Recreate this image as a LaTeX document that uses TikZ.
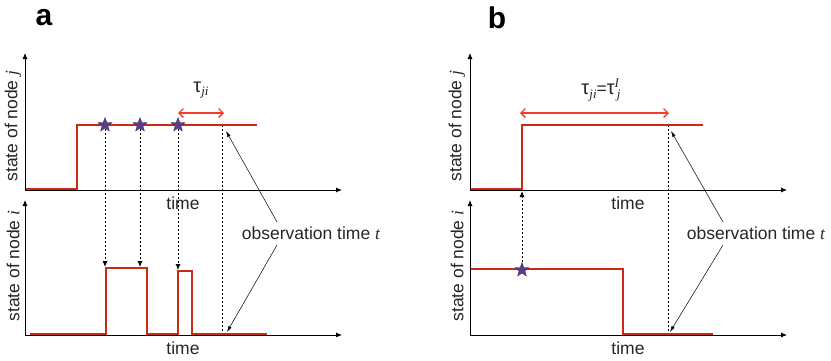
\documentclass[tikz,border=0pt]{standalone}
\usepackage{fontspec}
\setmainfont{Liberation Sans}
\newfontfamily\tim{Liberation Serif}
\usetikzlibrary{arrows.meta,shapes.geometric}
\definecolor{sig}{RGB}{200,45,20}
\definecolor{arr}{RGB}{245,60,40}
\definecolor{starc}{RGB}{95,60,135}
\newcommand\bigtau{{\fontsize{20}{20}\selectfont τ}}
\newcommand\lsub[1]{\raisebox{-3.5pt}{\fontsize{13}{13}\selectfont\tim\itshape #1}}
\newcommand\lsup[1]{\makebox[0pt][l]{\raisebox{7pt}{\fontsize{13}{13}\selectfont\tim\itshape #1}}}
\begin{document}
\begin{tikzpicture}[x=1pt,y=-1pt,
 axis/.style={line width=0.8pt,-{Latex[length=6pt,width=5pt]}},
 signal/.style={sig,line width=1.3pt,line join=miter},
 obs/.style={dash pattern=on 2.2pt off 1.8pt,line width=0.9pt},
 trig/.style={obs,-{Latex[length=6pt,width=5pt]}},
 span/.style={arr,line width=1.4pt,{Straight Barb[length=4.5pt,width=9pt]}-{Straight Barb[length=4.5pt,width=9pt]}},
 ptr/.style={line width=0.5pt,-{Latex[length=6pt,width=3.5pt]}},
 lbl/.style={font=\fontsize{17.5}{20}\selectfont,inner sep=0pt,text=black!85},
 starn/.style={star,star points=5,star point ratio=2.4,fill=starc,draw=starc!70!black,line width=0.3pt,minimum size=15pt,inner sep=0pt},
 panel/.style={font=\fontsize{30}{34}\bfseries\selectfont,inner sep=0pt}]
\useasboundingbox (0,0) rectangle (831,360);

% ---------------- panel a ----------------
\node[panel] (la) at (44,18) {a};
\coordinate (aO1) at (25,190); \coordinate (aY1) at (25,53); \coordinate (aX1) at (342,190);
\coordinate (aO2) at (25,335); \coordinate (aY2) at (25,200); \coordinate (aX2) at (342,335);
\draw[axis] (aO1) -- (aY1);
\draw[axis] (aO1) -- (aX1);
\draw[axis] (aO2) -- (aY2);
\draw[axis] (aO2) -- (aX2);

\coordinate (as1) at (105,125); \coordinate (as2) at (140,125); \coordinate (as3) at (178,125);
\coordinate (ap1) at (105,267); \coordinate (ap2) at (140,267); \coordinate (ap3) at (178,270);
\coordinate (aoT) at (222,125); \coordinate (aoB) at (222,334);
\draw[trig] (as1) -- (ap1);
\draw[trig] (as2) -- (ap2);
\draw[trig] (as3) -- (ap3);
\draw[obs] (aoT) -- (aoB);

\draw[signal] (26,189) -- (77,189) -- (77,125) -- (257,125);
\draw[signal] (30,334) -- (106,334) -- (106,268) -- (147,268) -- (147,334) -- (178,334) -- (178,271) -- (192,271) -- (192,334) -- (267,334);

\node[starn] (sa1) at (as1) {};
\node[starn] (sa2) at (as2) {};
\node[starn] (sa3) at (as3) {};

\coordinate (ata) at (178,113); \coordinate (atb) at (224,113);
\draw[span] (ata) -- (atb);
\node[lbl] (taua) at (201,90) {\bigtau\lsub{ji}};

\node[lbl] (obsa) at (311,233) {observation time {\tim\itshape t}};
\coordinate (aq1) at (277,222); \coordinate (aq2) at (277,245);
\coordinate (at1) at (226,131); \coordinate (at2) at (227,332);
\draw[ptr] (aq1) -- (at1);
\draw[ptr] (aq2) -- (at2);

\node[lbl] (tima1) at (183,203) {time};
\node[lbl] (tima2) at (183,348) {time};
\node[lbl,rotate=90] (ya1) at (13,126) {state of node {\tim\itshape j}};
\node[lbl,rotate=90] (ya2) at (13,266) {state of node {\tim\itshape i}};

% ---------------- panel b ----------------
\node[panel] (lb) at (497,18) {b};
\coordinate (bO1) at (470,190); \coordinate (bY1) at (470,53); \coordinate (bX1) at (787,190);
\coordinate (bO2) at (470,335); \coordinate (bY2) at (470,200); \coordinate (bX2) at (787,335);
\draw[axis] (bO1) -- (bY1);
\draw[axis] (bO1) -- (bX1);
\draw[axis] (bO2) -- (bY2);
\draw[axis] (bO2) -- (bX2);

\coordinate (bs1) at (522,270); \coordinate (bp1) at (522,191);
\coordinate (boT) at (668,125); \coordinate (boB) at (668,334);
\draw[trig] (bs1) -- (bp1);
\draw[obs] (boT) -- (boB);

\draw[signal] (471,189) -- (522,189) -- (522,125) -- (703,125);
\draw[signal] (471,269) -- (623,269) -- (623,334) -- (713,334);

\node[starn] (sb1) at (bs1) {};

\coordinate (bta) at (520,113); \coordinate (btb) at (669,113);
\draw[span] (bta) -- (btb);
\node[lbl] (taub) at (601,90) {\bigtau\lsub{ji}=\bigtau\lsup{I}\lsub{\,j}};

\node[lbl] (obsb) at (756,233) {observation time {\tim\itshape t}};
\coordinate (bq1) at (723,222); \coordinate (bq2) at (723,245);
\coordinate (bt1) at (671,131); \coordinate (bt2) at (670,332);
\draw[ptr] (bq1) -- (bt1);
\draw[ptr] (bq2) -- (bt2);

\node[lbl] (timb1) at (628,203) {time};
\node[lbl] (timb2) at (628,348) {time};
\node[lbl,rotate=90] (yb1) at (457,126) {state of node {\tim\itshape j}};
\node[lbl,rotate=90] (yb2) at (457,266) {state of node {\tim\itshape i}};
\end{tikzpicture}
\end{document}
